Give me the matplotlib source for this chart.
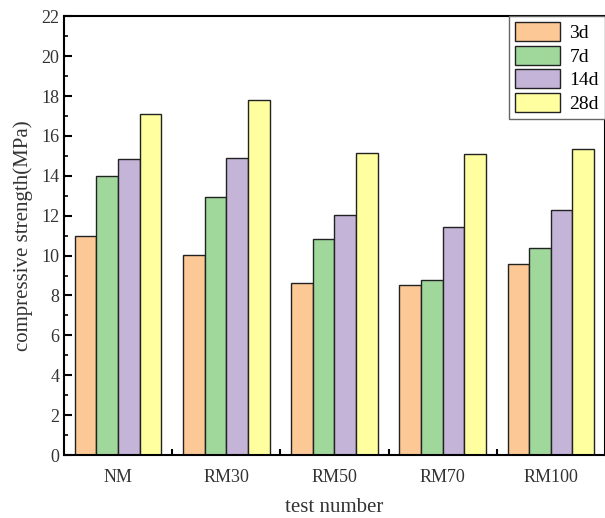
import numpy as np
import matplotlib.pyplot as plt
from matplotlib.ticker import MultipleLocator

plt.rcParams['font.family'] = 'Liberation Serif'

groups = ['NM', 'RM30', 'RM50', 'RM70', 'RM100']
ages = ['3d', '7d', '14d', '28d']
s3 = [11.0, 10.02, 8.62, 8.5, 9.59]
s7 = [13.98, 12.92, 10.82, 8.79, 10.38]
s14 = [14.84, 14.89, 12.02, 11.41, 12.31]
s28 = [17.1, 17.82, 15.14, 15.08, 15.33]
colors = ['#FBC896', '#A0D89C', '#C4B4D8', '#FFFFA0']

fig = plt.figure(figsize=(6.05, 5.18), dpi=100)
ax = fig.add_axes([0.1058, 0.1216, 0.894, 0.847])

x = np.arange(len(groups))
w = 0.2
for i, (vals, c, lab) in enumerate(zip([s3, s7, s14, s28], colors, ages)):
    ax.bar(x + (i - 1.5) * w, vals, w, color=c, edgecolor='#222222', linewidth=1.0, label=lab)

ax.set_xlim(-0.5, 4.5)
ax.set_ylim(0, 22)
ax.yaxis.set_major_locator(MultipleLocator(2))
ax.yaxis.set_minor_locator(MultipleLocator(1))
ax.set_xticks(x)
ax.set_xticklabels(groups)
ax.set_xticks(x[:-1] + 0.5, minor=True)
ax.tick_params(axis='y', which='major', direction='in', length=6, width=1.5, labelsize=13, labelcolor='#333333')
ax.tick_params(axis='y', which='minor', direction='in', length=3, width=1.2)
ax.tick_params(axis='x', which='major', length=0, labelsize=13, labelcolor='#333333', pad=10)
ax.tick_params(axis='x', which='minor', direction='in', length=4, width=1.5)
for sp in ax.spines.values():
    sp.set_linewidth(1.5)

ax.set_xlabel('test number', fontsize=15, color='#333333', labelpad=9)
ax.set_ylabel('compressive strength(MPa)', fontsize=15, color='#333333', labelpad=6)

leg = ax.legend(loc='upper right', fontsize=14, fancybox=False, framealpha=1,
                edgecolor='#666666', borderaxespad=0, handlelength=2.3, handleheight=1.15,
                labelspacing=0.17, handletextpad=0.5, borderpad=0.3)
leg.get_frame().set_linewidth(1.0)

fig.savefig('out.png', dpi=100)
